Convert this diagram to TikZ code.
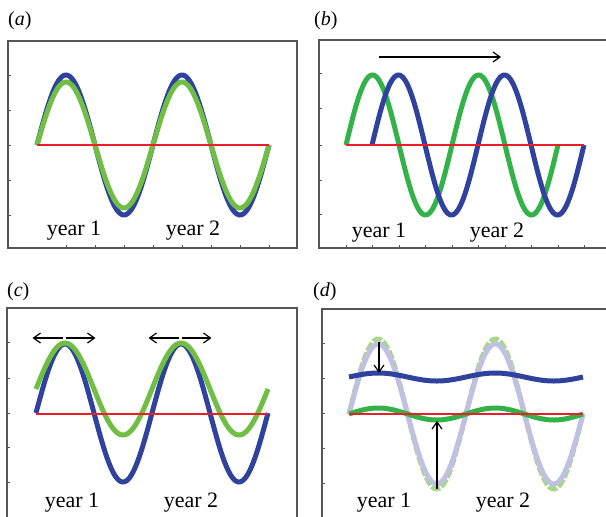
\documentclass[tikz,border=0pt]{standalone}
\usepackage{fontspec}
\setmainfont{Liberation Serif}
\usepackage{xcolor}
\usepackage{tikz}
\usetikzlibrary{arrows.meta}

\definecolor{wblue}{RGB}{46,66,158}
\definecolor{wgreen}{RGB}{112,190,68}
\definecolor{dgreen}{RGB}{52,178,74}
\definecolor{pale}{RGB}{192,192,226}
\definecolor{palegreen}{RGB}{168,214,138}
\definecolor{axred}{RGB}{232,30,40}
\definecolor{frame}{RGB}{85,85,85}

\begin{document}
\begin{tikzpicture}[x=1pt,y=-1pt,>={Straight Barb[length=7pt,width=10pt]},
    box/.style={draw=frame,line width=1.4pt},
    tick/.style={draw=frame,line width=0.7pt},
    wave/.style={line width=5pt,samples=160,smooth},
    zero/.style={draw=axred,line width=1.3pt},
    arr/.style={->,line width=1.2pt,black},
    yr/.style={font=\fontsize{22}{24}\selectfont,anchor=base,inner sep=0pt},
    tag/.style={font=\fontsize{20}{22}\selectfont,anchor=base west,inner sep=0pt}]
    \useasboundingbox (0,0) rectangle (606,517);

    % (a)
    \node[tag] (tag-a) at (8,25) {(\textit{a})};
    \draw[box] (8,41) rectangle (297,248);
    \foreach \y in {75,110,145,180,215} \draw[tick] (8,\y) -- ++(3,0);
    \foreach \x in {66,95,...,269} \draw[tick] (\x,248) -- ++(0,-3);
    \draw[wave,wblue] plot[domain=37:269] (\x,{145-70*sin((\x-37)/116*360)});
    \draw[wave,wgreen] plot[domain=37:269] (\x,{145-63*sin((\x-37)/116*360)});
    \coordinate (a-l) at (37,145);
    \coordinate (a-r) at (269,145);
    \draw[zero] (a-l) -- (a-r);
    \node[yr] (a-y1) at (74,235) {year 1};
    \node[yr] (a-y2) at (193,235) {year 2};

    % (b)
    \node[tag] (tag-b) at (314,25) {(\textit{b})};
    \draw[box] (606,40) -- (319,40) -- (319,248) -- (606,248);
    \foreach \y in {73,108,145,180,214} \draw[tick] (319,\y) -- ++(3,0);
    \foreach \i in {0,...,9} \draw[tick] ({346+26.5*\i},248) -- ++(0,-3);
    \draw[wave,dgreen] plot[domain=346:558] (\x,{145-70*sin((\x-346)/106*360)});
    \draw[wave,wblue] plot[domain=372:584] (\x,{145-70*sin((\x-372)/106*360)});
    \coordinate (b-l) at (346,145);
    \coordinate (b-r) at (584,145);
    \draw[zero] (b-l) -- (b-r);
    \coordinate (b-from) at (379,57);
    \coordinate (b-to) at (501,57);
    \draw[arr] (b-from) -- (b-to);
    \node[yr] (b-y1) at (379,237) {year 1};
    \node[yr] (b-y2) at (497,237) {year 2};

    % (c)
    \node[tag] (tag-c) at (7,296) {(\textit{c})};
    \draw[box] (7,517) -- (7,308) -- (297,308) -- (297,517);
    \foreach \y in {342,378,413,447,482} \draw[tick] (7,\y) -- ++(3,0);
    \draw[wave,wblue] plot[domain=36:268] (\x,{413-69*sin((\x-36)/116*360)});
    \draw[wave,wgreen] plot[domain=36:268] (\x,{389-46*sin((\x-36)/116*360)});
    \coordinate (c-l) at (36,414);
    \coordinate (c-r) at (268,414);
    \draw[zero] (c-l) -- (c-r);
    \foreach \m/\n in {64/c1,180/c2} {
        \coordinate (\n-mid) at (\m,338);
        \draw[arr] ([xshift=-1.5pt]\n-mid) -- ++(-30,0);
        \draw[arr] ([xshift=1.5pt]\n-mid) -- ++(30,0);
    }
    \node[yr] (c-y1) at (72,507) {year 1};
    \node[yr] (c-y2) at (191,507) {year 2};

    % (d)
    \node[tag] (tag-d) at (313,296) {(\textit{d})};
    \draw[box] (322,517) -- (322,309) -- (606,309);
    \foreach \y in {343,378,413,448,483} \draw[tick] (322,\y) -- ++(3,0);
    \draw[wave,palegreen,dash pattern=on 9pt off 2pt] plot[domain=349:583] (\x,{414-75*sin((\x-349)/117*360)});
    \draw[wave,pale] plot[domain=349:583] (\x,{414-70*sin((\x-349)/117*360)});
    \draw[wave,wblue] plot[domain=349:583] (\x,{377-4*sin((\x-349)/117*360)});
    \draw[wave,dgreen] plot[domain=349:583] (\x,{414-6*sin((\x-349)/117*360)});
    \coordinate (d-l) at (349,414);
    \coordinate (d-r) at (583,414);
    \draw[zero] (d-l) -- (d-r);
    \coordinate (d-top) at (379,342);
    \coordinate (d-hi) at (379,373);
    \coordinate (d-bot) at (437,489);
    \coordinate (d-lo) at (437,421);
    \draw[arr] (d-top) -- (d-hi);
    \draw[arr] (d-bot) -- (d-lo);
    \node[yr] (d-y1) at (384,507) {year 1};
    \node[yr] (d-y2) at (503,507) {year 2};
\end{tikzpicture}
\end{document}
